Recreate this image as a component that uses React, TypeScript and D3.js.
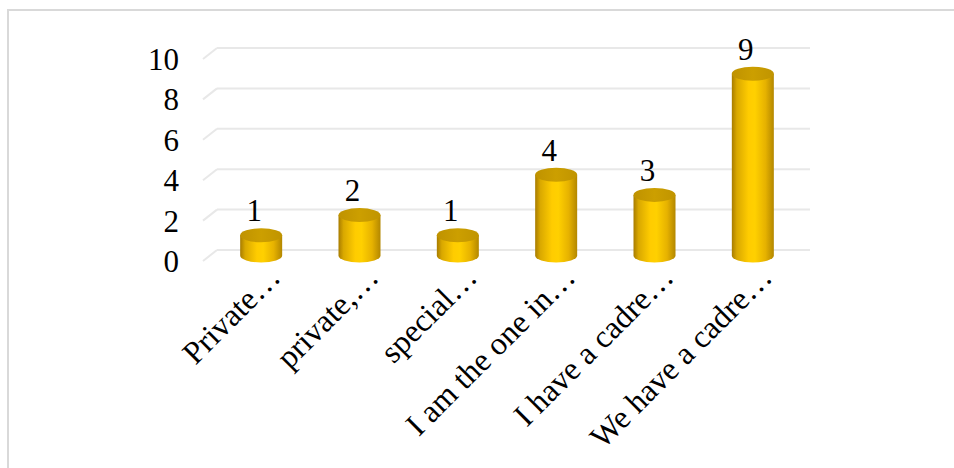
import React from "react";
import * as d3 from "d3";

const categories = [
  "Private…",
  "private,…",
  "special…",
  "I am the one in…",
  "I have a cadre…",
  "We have a cadre…",
];
const values = [1, 2, 1, 4, 3, 9];
const yTicks = [0, 2, 4, 6, 8, 10];

const W = 954;
const H = 468;

export default function App() {
  const x = d3.scaleBand<string>().domain(categories).range([212, 802]).padding(0);
  // mid-depth vertical scale (where cylinders stand)
  const y = d3.scaleLinear().domain([0, 10]).range([255.5, 53.5]);
  const depthDy = 5.5;
  const rx = 21;
  const ry = 7;
  const font = "'Liberation Serif', 'Times New Roman', serif";

  return (
    <svg
      width={W}
      height={H}
      style={{ position: "absolute", left: 0, top: 0, background: "#fff" }}
    >
      <defs>
        <linearGradient id="side" x1="0" x2="1" y1="0" y2="0">
          <stop offset="0" stopColor="#a87c00" />
          <stop offset="0.12" stopColor="#d9a800" />
          <stop offset="0.4" stopColor="#ffcc00" />
          <stop offset="0.55" stopColor="#ffd000" />
          <stop offset="0.8" stopColor="#e6b200" />
          <stop offset="1" stopColor="#b38700" />
        </linearGradient>
        <linearGradient id="top" x1="0" x2="1" y1="0" y2="0">
          <stop offset="0" stopColor="#bf9200" />
          <stop offset="0.5" stopColor="#cc9f00" />
          <stop offset="1" stopColor="#c09400" />
        </linearGradient>
      </defs>
      <rect x={8} y={10} width={W} height={H} fill="none" stroke="#d9d9d9" strokeWidth={2} />

      {/* gridlines: back wall + left floor diagonal */}
      {yTicks.map((t) => {
        const by = y(t) - depthDy;
        const fy = y(t) + depthDy;
        return (
          <g key={"g" + t}>
            <line x1={217} x2={810} y1={by} y2={by} stroke="#e8e8e8" strokeWidth={2} />
            <line x1={203} x2={217} y1={fy} y2={by} stroke="#e8e8e8" strokeWidth={2} />
          </g>
        );
      })}

      {/* y tick labels */}
      {yTicks.map((t) => (
        <text
          key={"t" + t}
          x={179}
          y={y(t) + depthDy + 11}
          textAnchor="end"
          fontFamily={font}
          fontSize={31}
          fill="#000"
        >
          {t}
        </text>
      ))}

      {/* cylinders */}
      {categories.map((c, i) => {
        const cx = (x(c) as number) + x.bandwidth() / 2;
        const base = y(0);
        const top = y(values[i]);
        const d = `M${cx - rx},${top} L${cx - rx},${base} A${rx},${ry} 0 0 0 ${cx + rx},${base} L${cx + rx},${top} Z`;
        return (
          <g key={c}>
            <path d={d} fill="url(#side)" />
            <ellipse cx={cx} cy={top} rx={rx} ry={ry} fill="url(#top)" />
            <text
              x={cx - 7}
              y={top - 14}
              textAnchor="middle"
              fontFamily={font}
              fontSize={31}
              fill="#000"
            >
              {values[i]}
            </text>
          </g>
        );
      })}

      {/* x labels */}
      {categories.map((c) => {
        const cx = (x(c) as number) + x.bandwidth() / 2;
        return (
          <text
            key={"x" + c}
            transform={`translate(${cx + 21},${279}) rotate(-45)`}
            textAnchor="end"
            fontFamily={font}
            fontSize={32}
            fill="#000"
          >
            {c}
          </text>
        );
      })}
    </svg>
  );
}
